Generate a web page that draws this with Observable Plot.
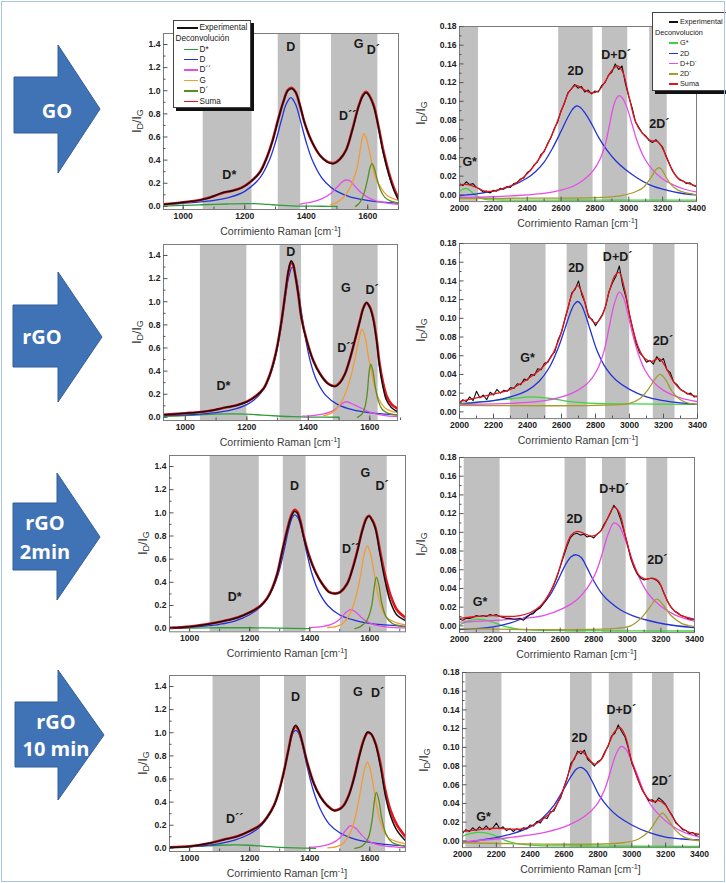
<!DOCTYPE html>
<html><head><meta charset="utf-8">
<script src="https://cdn.jsdelivr.net/npm/d3@7"></script>
<script src="https://cdn.jsdelivr.net/npm/@observablehq/plot@0.6"></script>
<style>
body{margin:0;background:#fff;}
#fig{position:relative;width:726px;height:883px;overflow:hidden;background:#fff;font-family:"Liberation Sans",Arial,sans-serif;}
.abs{position:absolute;}
.xt{position:absolute;text-align:center;font-size:10.5px;color:#3a3a3a;white-space:nowrap;}
.yt{position:absolute;font-size:12px;color:#333;white-space:nowrap;transform:translate(-50%,-50%) rotate(-90deg);}
.yt sub{font-size:9px;vertical-align:-2px;}
.xt sup{font-size:7.5px;vertical-align:4px;}
.leg{position:absolute;background:#fff;border:1px solid #444;box-shadow:3px 3px 0 #111;color:#222;}
.leg div{position:absolute;white-space:nowrap;line-height:9px;color:#222;}
.arrowtxt{position:absolute;color:#fff;font-family:"Open Sans",Lato,sans-serif;font-weight:bold;font-size:20px;text-align:center;white-space:nowrap;transform:translate(-50%,-50%);}
</style></head>
<body><div id="fig"></div>
<script>
// ---------- shared ticks ----------
const xMajorL = [1000, 1200, 1400, 1600];
const xMinorL = [1000, 1100, 1200, 1300, 1400, 1500, 1600, 1700];
const yMajorL = [0, 0.2, 0.4, 0.6, 0.8, 1.0, 1.2, 1.4];
const yMinorL = [0.1, 0.3, 0.5, 0.7, 0.9, 1.1, 1.3];
const xMajorR = [2000, 2200, 2400, 2600, 2800, 3000, 3200, 3400];
const xMinorR = [2100, 2300, 2500, 2700, 2900, 3100, 3300];
const yMajorR = [0, 0.02, 0.04, 0.06, 0.08, 0.10, 0.12, 0.14, 0.16, 0.18];
const yMinorR = [0.01, 0.03, 0.05, 0.07, 0.09, 0.11, 0.13, 0.15, 0.17];
const ramanR = [2000,2020,2040,2060,2080,2100,2120,2140,2160,2180,2200,2220,2240,2260,2280,2300,2320,2340,2360,2380,2400,2420,2440,2460,2480,2500,2520,2540,2560,2580,2600,2620,2640,2660,2680,2700,2720,2740,2760,2780,2800,2820,2840,2860,2880,2900,2920,2940,2960,2980,3000,3020,3040,3060,3080,3100,3120,3140,3160,3180,3200,3220,3240,3260,3280,3300,3320,3340,3360,3380,3400];

const sampleNames = ["GO", "rGO", "rGO|2min", "rGO|10 min"];

// ---------- GO : 950-1700 ----------
const GO_L_exp = [[936,0.017],[1000,0.035],[1050,0.052],[1080,0.07],[1100,0.09],[1130,0.12],[1160,0.135],[1190,0.16],[1220,0.215],[1250,0.295],[1270,0.41],[1290,0.56],[1310,0.76],[1325,0.9],[1340,1.0],[1352,1.02],[1365,0.99],[1380,0.87],[1395,0.72],[1420,0.55],[1445,0.44],[1470,0.38],[1490,0.37],[1510,0.41],[1530,0.49],[1550,0.66],[1570,0.86],[1585,0.96],[1595,0.985],[1605,0.955],[1620,0.86],[1635,0.68],[1650,0.47],[1670,0.26],[1685,0.14],[1700,0.055]];
const GO_L_suma = [[936,0.018],[1000,0.036],[1050,0.053],[1100,0.09],[1130,0.118],[1160,0.135],[1190,0.162],[1220,0.215],[1250,0.3],[1270,0.41],[1290,0.565],[1310,0.765],[1325,0.9],[1340,1.005],[1352,1.025],[1365,0.99],[1380,0.87],[1395,0.72],[1420,0.55],[1445,0.44],[1470,0.385],[1490,0.375],[1510,0.41],[1530,0.49],[1550,0.665],[1570,0.865],[1585,0.965],[1595,0.99],[1605,0.96],[1620,0.87],[1635,0.69],[1650,0.49],[1670,0.28],[1685,0.16],[1700,0.07]];
const GO_L_Dstar = [[936,0.003],[1000,0.008],[1050,0.013],[1100,0.018],[1150,0.021],[1200,0.023],[1230,0.023],[1260,0.02],[1290,0.014],[1320,0.009],[1350,0.005],[1400,0.002],[1450,0.001],[1500,0]];
const GO_L_D = [[936,0.019],[1000,0.027],[1050,0.036],[1100,0.051],[1150,0.078],[1200,0.13],[1250,0.249],[1280,0.398],[1300,0.555],[1320,0.752],[1335,0.885],[1350,0.94],[1365,0.885],[1380,0.752],[1400,0.555],[1420,0.398],[1450,0.249],[1480,0.165],[1500,0.13],[1540,0.085],[1580,0.06],[1620,0.044],[1660,0.034],[1700,0.027]];
const GO_L_D2 = [[1380,0.02],[1420,0.039],[1450,0.065],[1480,0.112],[1500,0.165],[1520,0.218],[1532,0.228],[1545,0.215],[1560,0.169],[1580,0.115],[1600,0.078],[1620,0.054],[1640,0.039],[1670,0.026],[1700,0.018]];
const GO_L_G = [[1480,0.015],[1500,0.035],[1522,0.08],[1544,0.17],[1556,0.25],[1566,0.34],[1576,0.5],[1583,0.6],[1588,0.63],[1594,0.6],[1600,0.54],[1609,0.43],[1617,0.33],[1625,0.25],[1641,0.17],[1663,0.095],[1700,0.05]];
const GO_L_Dp = [[1560,0.0],[1570,0.02],[1580,0.06],[1590,0.13],[1600,0.24],[1608,0.34],[1614,0.37],[1620,0.34],[1630,0.24],[1640,0.15],[1655,0.08],[1675,0.045],[1700,0.03]];
const GO_L_bands = [[1065,1224],[1309,1382],[1482,1633]];
const GO_L_labels = [["D*",1150,0.27],["D",1350,1.38],["D´´",1535,0.78],["G",1570,1.4],["D´",1618,1.35]];

// ---------- GO : 2000-3400 ----------
const GO_R_exp = [0.012,0.010,0.014,0.011,0.012,0.008,0.006,0.003,0.004,0.002,0.005,0.004,0.007,0.006,0.009,0.008,0.012,0.013,0.017,0.018,0.024,0.026,0.032,0.035,0.043,0.046,0.055,0.061,0.071,0.078,0.090,0.098,0.109,0.113,0.118,0.114,0.116,0.110,0.112,0.108,0.111,0.110,0.117,0.120,0.128,0.131,0.140,0.134,0.138,0.119,0.105,0.093,0.078,0.072,0.066,0.063,0.058,0.056,0.059,0.055,0.051,0.041,0.033,0.025,0.020,0.016,0.015,0.012,0.013,0.010,0.009];
const GO_R_suma = [[2000,0.011],[2050,0.011],[2100,0.008],[2150,0.004],[2200,0.004],[2260,0.007],[2320,0.011],[2380,0.019],[2440,0.031],[2500,0.047],[2560,0.07],[2610,0.094],[2650,0.111],[2690,0.117],[2730,0.113],[2780,0.109],[2820,0.111],[2860,0.121],[2900,0.133],[2935,0.138],[2965,0.131],[3000,0.106],[3040,0.078],[3080,0.066],[3130,0.058],[3170,0.057],[3210,0.046],[3250,0.029],[3290,0.018],[3340,0.013],[3400,0.0095]];
const GO_R_Gstar = [[2000,0.004],[2020,0.006],[2040,0.007],[2060,0.005],[2090,0.0],[2120,-0.003],[2160,-0.005],[2250,-0.0055],[2600,-0.0056],[3400,-0.0056]];
const GO_R_2D = [[2000,-0.001],[2100,0.001],[2200,0.004],[2300,0.009],[2400,0.018],[2450,0.025],[2500,0.035],[2550,0.05],[2600,0.068],[2640,0.083],[2670,0.092],[2690,0.095],[2710,0.094],[2740,0.088],[2780,0.076],[2820,0.062],[2870,0.048],[2920,0.037],[2980,0.027],[3050,0.018],[3120,0.011],[3200,0.006],[3300,0.002],[3400,0.0]];
const GO_R_DDp = [[2000,-0.003],[2200,-0.002],[2400,0.0],[2500,0.0015],[2600,0.005],[2680,0.01],[2740,0.017],[2790,0.026],[2830,0.038],[2860,0.053],[2885,0.074],[2910,0.095],[2930,0.104],[2945,0.106],[2965,0.103],[2990,0.093],[3020,0.075],[3050,0.057],[3090,0.04],[3140,0.027],[3200,0.017],[3260,0.011],[3330,0.006],[3400,0.003]];
const GO_R_2Dp = [[2000,-0.004],[2400,-0.0035],[2800,-0.003],[2950,-0.001],[3020,0.002],[3080,0.007],[3110,0.013],[3140,0.021],[3160,0.027],[3178,0.029],[3195,0.027],[3220,0.019],[3250,0.011],[3290,0.005],[3340,0.002],[3400,0.0]];
const GO_R_bands = [[2000,2112],[2586,2789],[2844,2994],[3124,3227]];
const GO_R_labels = [["G*",2060,0.035],["2D",2685,0.132],["D+D´",2925,0.149],["2D´",3180,0.076]];

// ---------- rGO : 950-1700 ----------
const rGO_L_exp = [[929,0.022],[960,0.028],[1000,0.035],[1050,0.046],[1090,0.062],[1120,0.08],[1170,0.107],[1200,0.135],[1230,0.185],[1255,0.25],[1275,0.37],[1295,0.56],[1312,0.82],[1325,1.07],[1336,1.28],[1344,1.355],[1350,1.33],[1358,1.22],[1368,1.05],[1378,0.85],[1395,0.66],[1416,0.49],[1438,0.375],[1460,0.30],[1476,0.274],[1488,0.268],[1503,0.30],[1519,0.375],[1535,0.504],[1551,0.663],[1568,0.836],[1578,0.937],[1589,0.994],[1600,0.951],[1611,0.85],[1622,0.663],[1632,0.432],[1643,0.26],[1654,0.15],[1670,0.086],[1690,0.05]];
const rGO_L_suma = [[929,0.023],[960,0.028],[1000,0.036],[1050,0.047],[1090,0.062],[1120,0.079],[1170,0.108],[1200,0.136],[1230,0.186],[1255,0.252],[1275,0.372],[1295,0.565],[1312,0.82],[1325,1.07],[1336,1.27],[1344,1.34],[1350,1.325],[1358,1.225],[1368,1.05],[1378,0.855],[1395,0.665],[1416,0.492],[1438,0.378],[1460,0.302],[1476,0.276],[1488,0.272],[1503,0.302],[1519,0.375],[1535,0.504],[1551,0.663],[1568,0.84],[1578,0.94],[1589,0.99],[1600,0.955],[1611,0.86],[1622,0.68],[1632,0.46],[1643,0.3],[1654,0.19],[1670,0.115],[1690,0.075]];
const rGO_L_Dstar = [[929,0.008],[1000,0.015],[1050,0.022],[1100,0.028],[1150,0.03],[1200,0.028],[1250,0.02],[1300,0.012],[1350,0.006],[1400,0.003],[1500,0.001]];
const rGO_L_D = [[929,0.015],[1000,0.021],[1050,0.029],[1100,0.041],[1150,0.064],[1200,0.11],[1240,0.192],[1270,0.325],[1290,0.489],[1305,0.68],[1320,0.937],[1335,1.2],[1348,1.3],[1361,1.2],[1376,0.937],[1391,0.68],[1406,0.489],[1426,0.325],[1456,0.192],[1496,0.11],[1546,0.064],[1596,0.041],[1650,0.028],[1700,0.021]];
const rGO_L_D2 = [[1380,0.01],[1420,0.018],[1450,0.03],[1470,0.045],[1490,0.075],[1505,0.11],[1522,0.135],[1540,0.12],[1560,0.095],[1580,0.07],[1600,0.045],[1620,0.03],[1650,0.015],[1680,0.008],[1700,0.006]];
const rGO_L_G = [[1450,0.015],[1470,0.03],[1490,0.068],[1510,0.145],[1525,0.24],[1540,0.37],[1555,0.55],[1565,0.68],[1574,0.762],[1585,0.69],[1595,0.53],[1605,0.4],[1615,0.27],[1630,0.155],[1650,0.08],[1670,0.055],[1700,0.038]];
const rGO_L_Dp = [[1560,0.0],[1575,0.03],[1585,0.1],[1592,0.22],[1598,0.4],[1603,0.46],[1610,0.4],[1618,0.26],[1628,0.14],[1640,0.07],[1660,0.035],[1700,0.02]];
const rGO_L_bands = [[1049,1200],[1308,1378],[1481,1627]];
const rGO_L_labels = [["D*",1124,0.27],["D",1343,1.43],["D´´",1522,0.6],["G",1522,1.12],["D´",1607,1.1]];

// ---------- rGO : 2000-3400 ----------
const rGO_R_exp = [0.009,0.013,0.011,0.016,0.012,0.022,0.015,0.018,0.013,0.021,0.018,0.024,0.020,0.023,0.022,0.026,0.025,0.030,0.029,0.035,0.034,0.040,0.039,0.046,0.045,0.052,0.053,0.060,0.064,0.077,0.085,0.099,0.112,0.127,0.131,0.140,0.125,0.116,0.101,0.099,0.092,0.098,0.104,0.113,0.129,0.138,0.145,0.156,0.135,0.122,0.104,0.088,0.073,0.063,0.059,0.053,0.055,0.051,0.059,0.054,0.057,0.045,0.042,0.032,0.029,0.024,0.022,0.019,0.020,0.016,0.017];
const rGO_R_suma = [[2000,0.011],[2100,0.015],[2200,0.019],[2300,0.024],[2400,0.035],[2480,0.046],[2540,0.059],[2590,0.08],[2630,0.106],[2665,0.127],[2695,0.135],[2725,0.125],[2760,0.103],[2800,0.095],[2840,0.103],[2880,0.128],[2915,0.146],[2940,0.149],[2970,0.132],[3010,0.096],[3050,0.07],[3090,0.057],[3130,0.054],[3175,0.057],[3215,0.047],[3260,0.032],[3300,0.024],[3350,0.019],[3400,0.016]];
const rGO_R_Gstar = [[2000,0.009],[2100,0.0105],[2200,0.012],[2300,0.014],[2430,0.016],[2550,0.014],[2650,0.011],[2800,0.009],[3000,0.0085],[3400,0.008]];
const rGO_R_2D = [[2000,0.008],[2100,0.01],[2200,0.012],[2300,0.016],[2400,0.023],[2470,0.033],[2530,0.048],[2580,0.068],[2620,0.089],[2650,0.105],[2675,0.115],[2695,0.118],[2715,0.115],[2740,0.104],[2770,0.087],[2810,0.065],[2860,0.047],[2920,0.034],[3000,0.024],[3100,0.016],[3200,0.012],[3300,0.0095],[3400,0.008]];
const rGO_R_DDp = [[2000,0.008],[2300,0.009],[2500,0.012],[2650,0.019],[2750,0.03],[2810,0.045],[2850,0.065],[2880,0.09],[2910,0.115],[2940,0.128],[2965,0.122],[2990,0.105],[3020,0.082],[3050,0.063],[3090,0.045],[3140,0.032],[3200,0.023],[3300,0.015],[3400,0.011]];
const rGO_R_2Dp = [[2000,0.007],[2800,0.007],[3000,0.009],[3060,0.014],[3110,0.024],[3150,0.035],[3180,0.040],[3210,0.035],[3250,0.022],[3300,0.013],[3350,0.009],[3400,0.008]];
const rGO_R_bands = [[2299,2509],[2633,2755],[2859,3001],[3140,3268]];
const rGO_R_labels = [["G*",2400,0.058],["2D",2686,0.154],["D+D´",2930,0.166],["2D´",3197,0.076]];

// ---------- rGO 2min : 950-1700 ----------
const rGO2_L_exp = [[933,0.006],[1000,0.017],[1070,0.043],[1114,0.066],[1159,0.095],[1203,0.144],[1236,0.196],[1258,0.259],[1275,0.345],[1292,0.474],[1308,0.661],[1325,0.848],[1338,0.963],[1349,1.012],[1358,1.0],[1369,0.92],[1380,0.79],[1397,0.632],[1419,0.489],[1441,0.388],[1464,0.316],[1486,0.302],[1502,0.316],[1525,0.388],[1541,0.503],[1558,0.661],[1574,0.834],[1589,0.949],[1597,0.972],[1608,0.934],[1619,0.862],[1635,0.632],[1652,0.402],[1669,0.23],[1691,0.115],[1719,0.07]];
const rGO2_L_suma = [[933,0.007],[1000,0.018],[1070,0.044],[1114,0.067],[1159,0.096],[1203,0.145],[1236,0.198],[1258,0.262],[1275,0.348],[1292,0.478],[1308,0.665],[1325,0.855],[1338,0.975],[1349,1.025],[1358,1.01],[1369,0.93],[1380,0.8],[1397,0.64],[1419,0.492],[1441,0.39],[1464,0.318],[1486,0.305],[1502,0.318],[1525,0.39],[1541,0.505],[1558,0.665],[1574,0.84],[1589,0.955],[1597,0.975],[1608,0.94],[1619,0.87],[1635,0.66],[1652,0.45],[1669,0.29],[1691,0.16],[1719,0.095]];
const rGO2_L_Dstar = [[933,0.002],[1000,0.005],[1100,0.008],[1200,0.008],[1300,0.004],[1400,0.001]];
const rGO2_L_D = [[933,0.004],[1000,0.011],[1050,0.022],[1100,0.038],[1150,0.066],[1200,0.12],[1240,0.2],[1270,0.31],[1295,0.47],[1315,0.68],[1330,0.86],[1342,0.96],[1350,0.983],[1360,0.96],[1372,0.87],[1388,0.68],[1408,0.47],[1430,0.32],[1460,0.2],[1500,0.118],[1550,0.072],[1600,0.045],[1650,0.032],[1719,0.02]];
const rGO2_L_D2 = [[1400,0.008],[1440,0.018],[1470,0.034],[1495,0.07],[1515,0.125],[1535,0.164],[1555,0.14],[1575,0.09],[1595,0.055],[1620,0.03],[1660,0.013],[1719,0.006]];
const rGO2_L_G = [[1460,0.01],[1490,0.02],[1510,0.045],[1530,0.11],[1545,0.2],[1560,0.34],[1572,0.5],[1582,0.65],[1591,0.715],[1600,0.67],[1610,0.55],[1620,0.39],[1632,0.24],[1645,0.14],[1660,0.088],[1690,0.05],[1719,0.033]];
const rGO2_L_Dp = [[1550,0.0],[1570,0.02],[1590,0.07],[1605,0.18],[1615,0.36],[1622,0.445],[1630,0.38],[1640,0.22],[1655,0.1],[1675,0.045],[1700,0.025],[1719,0.018]];
const rGO2_L_bands = [[1068,1232],[1312,1388],[1502,1658]];
const rGO2_L_labels = [["D*",1150,0.27],["D",1349,1.23],["D´´",1536,0.69],["G",1585,1.34],["D´",1641,1.23]];

// ---------- rGO 2min : 2000-3400 ----------
const rGO2_R_exp = [0.007,0.006,0.008,0.008,0.009,0.011,0.010,0.011,0.010,0.012,0.011,0.012,0.010,0.009,0.008,0.008,0.007,0.007,0.008,0.006,0.009,0.012,0.013,0.017,0.019,0.024,0.029,0.036,0.043,0.052,0.063,0.074,0.085,0.094,0.098,0.099,0.097,0.098,0.095,0.096,0.094,0.098,0.101,0.108,0.114,0.121,0.129,0.124,0.114,0.101,0.088,0.072,0.062,0.055,0.051,0.049,0.050,0.051,0.050,0.048,0.043,0.034,0.026,0.020,0.016,0.014,0.011,0.010,0.008,0.007,0.007];
const rGO2_R_suma = [[2000,0.008],[2100,0.01],[2200,0.011],[2280,0.01],[2360,0.011],[2420,0.014],[2480,0.021],[2540,0.036],[2590,0.058],[2630,0.082],[2665,0.097],[2700,0.101],[2740,0.099],[2790,0.096],[2840,0.101],[2880,0.114],[2920,0.127],[2950,0.122],[2990,0.095],[3030,0.069],[3070,0.054],[3110,0.05],[3150,0.051],[3185,0.048],[3220,0.034],[3260,0.02],[3310,0.012],[3400,0.007]];
const rGO2_R_Gstar = [[2000,0.001],[2050,0.005],[2100,0.007],[2150,0.0065],[2200,0.004],[2260,0.0],[2330,-0.003],[2450,-0.0045],[2700,-0.005],[3400,-0.0055]];
const rGO2_R_2D = [[2000,-0.004],[2200,-0.001],[2300,0.003],[2400,0.01],[2480,0.02],[2540,0.033],[2590,0.05],[2630,0.065],[2665,0.074],[2696,0.076],[2725,0.073],[2760,0.062],[2800,0.048],[2850,0.034],[2900,0.025],[2960,0.017],[3030,0.011],[3120,0.006],[3220,0.002],[3400,-0.002]];
const rGO2_R_DDp = [[2000,0.004],[2300,0.007],[2500,0.011],[2620,0.019],[2700,0.028],[2760,0.04],[2810,0.056],[2850,0.077],[2885,0.098],[2920,0.11],[2950,0.107],[2985,0.093],[3030,0.07],[3080,0.048],[3130,0.033],[3200,0.021],[3280,0.012],[3400,0.005]];
const rGO2_R_2Dp = [[2000,-0.003],[2900,-0.003],[3020,0.0],[3080,0.008],[3130,0.019],[3175,0.0285],[3215,0.022],[3260,0.011],[3320,0.003],[3400,-0.001]];
const rGO2_R_bands = [[2028,2242],[2629,2755],[2852,2993],[3116,3241]];
const rGO2_R_labels = [["G*",2123,0.026],["2D",2685,0.114],["D+D´",2921,0.146],["2D´",3179,0.07]];

// ---------- rGO 10 min : 950-1700 ----------
const rGO10_L_exp = [[933,0.009],[1000,0.017],[1070,0.046],[1114,0.075],[1159,0.104],[1203,0.153],[1236,0.202],[1258,0.269],[1281,0.37],[1297,0.486],[1314,0.66],[1330,0.861],[1342,1.006],[1353,1.064],[1364,1.02],[1375,0.92],[1391,0.746],[1414,0.558],[1436,0.442],[1458,0.37],[1480,0.327],[1497,0.335],[1513,0.37],[1530,0.457],[1547,0.601],[1563,0.775],[1580,0.934],[1593,1.006],[1604,0.991],[1619,0.905],[1635,0.717],[1652,0.457],[1669,0.283],[1691,0.153],[1719,0.066]];
const rGO10_L_suma = [[933,0.01],[1000,0.018],[1070,0.047],[1114,0.076],[1159,0.105],[1203,0.154],[1236,0.204],[1258,0.27],[1281,0.372],[1297,0.49],[1314,0.665],[1330,0.865],[1342,1.005],[1353,1.055],[1364,1.015],[1375,0.92],[1391,0.75],[1414,0.56],[1436,0.445],[1458,0.372],[1480,0.33],[1497,0.338],[1513,0.372],[1530,0.46],[1547,0.605],[1563,0.78],[1580,0.94],[1593,1.0],[1604,0.99],[1619,0.91],[1635,0.74],[1652,0.5],[1669,0.33],[1691,0.2],[1719,0.1]];
const rGO10_L_Dstar = [[933,0.005],[1000,0.012],[1050,0.02],[1100,0.027],[1150,0.03],[1200,0.027],[1250,0.018],[1300,0.009],[1350,0.004],[1420,0.001]];
const rGO10_L_D = [[933,0.008],[1000,0.015],[1050,0.025],[1100,0.042],[1150,0.072],[1200,0.124],[1240,0.2],[1270,0.31],[1295,0.47],[1315,0.68],[1332,0.88],[1345,1.0],[1353,1.02],[1362,1.0],[1375,0.9],[1392,0.7],[1412,0.5],[1435,0.34],[1465,0.21],[1500,0.135],[1550,0.08],[1600,0.052],[1650,0.035],[1719,0.022]];
const rGO10_L_D2 = [[1400,0.008],[1440,0.02],[1475,0.045],[1500,0.09],[1518,0.15],[1536,0.196],[1555,0.17],[1575,0.11],[1595,0.065],[1620,0.037],[1660,0.017],[1719,0.007]];
const rGO10_L_G = [[1460,0.005],[1490,0.015],[1510,0.04],[1530,0.11],[1545,0.2],[1560,0.37],[1572,0.54],[1583,0.69],[1592,0.745],[1600,0.7],[1610,0.57],[1620,0.41],[1632,0.26],[1645,0.16],[1660,0.095],[1690,0.058],[1719,0.04]];
const rGO10_L_Dp = [[1550,0.0],[1575,0.02],[1595,0.09],[1608,0.25],[1616,0.42],[1622,0.485],[1630,0.42],[1640,0.26],[1655,0.12],[1675,0.05],[1700,0.028],[1719,0.02]];
const rGO10_L_bands = [[1078,1236],[1316,1389],[1502,1653]];
const rGO10_L_labels = [["D´´",1150,0.25],["D",1353,1.31],["G",1560,1.35],["D´",1626,1.34]];

// ---------- rGO 10 min : 2000-3400 ----------
const rGO10_R_exp = [0.008,0.012,0.010,0.014,0.011,0.015,0.012,0.016,0.012,0.014,0.019,0.013,0.015,0.011,0.013,0.010,0.013,0.011,0.014,0.013,0.017,0.016,0.021,0.019,0.025,0.024,0.031,0.032,0.040,0.046,0.058,0.068,0.083,0.087,0.096,0.093,0.097,0.087,0.084,0.080,0.085,0.087,0.095,0.101,0.112,0.115,0.124,0.117,0.111,0.099,0.083,0.074,0.064,0.055,0.049,0.043,0.044,0.041,0.046,0.043,0.039,0.032,0.027,0.019,0.016,0.012,0.011,0.008,0.009,0.006,0.007];
const rGO10_R_suma = [[2000,0.01],[2100,0.012],[2200,0.0135],[2280,0.0125],[2360,0.013],[2420,0.017],[2480,0.024],[2540,0.034],[2590,0.052],[2630,0.074],[2665,0.09],[2700,0.096],[2740,0.089],[2780,0.082],[2820,0.087],[2860,0.102],[2900,0.117],[2930,0.121],[2960,0.113],[3000,0.085],[3040,0.064],[3080,0.049],[3120,0.042],[3160,0.043],[3200,0.038],[3240,0.026],[3280,0.016],[3330,0.01],[3400,0.007]];
const rGO10_R_Gstar = [[2000,0.005],[2050,0.008],[2100,0.009],[2150,0.008],[2200,0.005],[2260,0.0],[2320,-0.003],[2450,-0.005],[2700,-0.0055],[3400,-0.006]];
const rGO10_R_2D = [[2000,-0.002],[2150,0.002],[2300,0.008],[2400,0.015],[2470,0.024],[2540,0.038],[2600,0.056],[2645,0.07],[2675,0.077],[2700,0.0785],[2730,0.075],[2765,0.064],[2810,0.048],[2860,0.036],[2920,0.026],[3000,0.017],[3100,0.009],[3200,0.004],[3300,0.002],[3400,0.001]];
const rGO10_R_DDp = [[2000,-0.001],[2300,0.004],[2500,0.0096],[2630,0.017],[2720,0.026],[2790,0.038],[2840,0.055],[2880,0.078],[2910,0.094],[2938,0.101],[2965,0.098],[2995,0.087],[3030,0.072],[3070,0.053],[3110,0.039],[3160,0.028],[3230,0.017],[3310,0.009],[3400,0.004]];
const rGO10_R_2Dp = [[2000,-0.002],[2950,-0.002],[3040,0.002],[3100,0.01],[3145,0.022],[3181,0.0296],[3215,0.023],[3255,0.012],[3310,0.004],[3400,0.0]];
const rGO10_R_bands = [[2020,2233],[2638,2766],[2867,3007],[3122,3250]];
const rGO10_R_labels = [["G*",2124,0.026],["2D",2691,0.11],["D+D´",2938,0.14],["2D´",3177,0.064]];

// ---------- legend entries ----------
const legendL = ["D*", "D", "D´´", "G", "D´"];
const legendR = ["G*", "2D", "D+D´", "2D´"];

// ================= drawing =================
const colL = ["#2e9e3a", "#2233d6", "#e54ee5", "#f39a33", "#5a8e1e"];
const colR = ["#3fd23f", "#2233d6", "#e54ee5", "#a79b2c"];
const RED = "#e3141c";
const fig = document.getElementById("fig");

function add(html, cls, style) {
  const d = document.createElement("div");
  if (cls) d.className = cls;
  d.innerHTML = html;
  Object.assign(d.style, style);
  fig.appendChild(d);
  return d;
}

function panel(cfg) {
  const [fx0, fy0, fx1, fy1] = cfg.frame;
  const fw = fx1 - fx0, fh = fy1 - fy0;
  const ml = 36, mr = 4, mt = 4, mb = 30;
  const left = cfg.side === "L";
  const marks = [
    Plot.rect(cfg.bands, {x1: d => d[0], x2: d => d[1], y1: () => cfg.yd[0], y2: () => cfg.yd[1], fill: "#c0c0c0"})
  ];
  cfg.comps.forEach((c, i) => {
    marks.push(Plot.line(c, {x: d => d[0], y: d => d[1], stroke: cfg.colors[i], strokeWidth: 1.3, curve: "catmull-rom", clip: true}));
  });
  if (left) {
    marks.push(Plot.line(cfg.suma, {x: d => d[0], y: d => d[1], stroke: RED, strokeWidth: 2.6, curve: "catmull-rom", clip: true}));
    marks.push(Plot.line(cfg.exp, {x: d => d[0], y: d => d[1], stroke: "#111", strokeWidth: 1.5, curve: "catmull-rom", clip: true}));
  } else {
    marks.push(Plot.line(cfg.exp, {x: (d, i) => ramanR[i], y: d => d, stroke: "#111", strokeWidth: 1.1, clip: true}));
    marks.push(Plot.line(cfg.suma, {x: d => d[0], y: d => d[1], stroke: RED, strokeWidth: 1.3, curve: "catmull-rom", clip: true}));
  }
  marks.push(
    Plot.frame({stroke: "#7c7c7c", strokeWidth: 1}),
    Plot.ruleX(cfg.xMinor, {x: d => d, insetTop: fh - 2.5, stroke: "#555"}),
    Plot.ruleX(cfg.xMajor, {x: d => d, insetTop: fh - 4.5, stroke: "#555"}),
    Plot.ruleY(cfg.yMinor, {y: d => d, insetRight: fw - 2.5, stroke: "#555"}),
    Plot.ruleY(cfg.yMajor, {y: d => d, insetRight: fw - 4.5, stroke: "#555"}),
    Plot.axisX(cfg.xMajor, {tickSize: 0, tickPadding: 3, tickFormat: d => String(d), label: null, fill: "#222"}),
    Plot.axisY(cfg.yMajor, {tickSize: 0, tickPadding: 3, tickFormat: d => d.toFixed(left ? 1 : 2), label: null, fill: "#222"}),
    Plot.text(cfg.labels, {x: d => d[1], y: d => d[2], text: d => d[0], fontSize: 12.5, fontWeight: "bold", fill: "#1a1a1a"})
  );
  const svg = Plot.plot({
    width: ml + fw + mr, height: mt + fh + mb,
    marginLeft: ml, marginRight: mr, marginTop: mt, marginBottom: mb,
    x: {domain: cfg.xd}, y: {domain: cfg.yd},
    style: {fontFamily: "'Liberation Sans', Arial, sans-serif", fontSize: "8.6px", fontWeight: "bold", background: "transparent", overflow: "visible"},
    marks
  });
  svg.style.position = "absolute";
  svg.style.left = (fx0 - ml) + "px";
  svg.style.top = (fy0 - mt) + "px";
  fig.appendChild(svg);
  add("Corrimiento Raman [cm<sup>-1</sup>]", "xt", {left: fx0 + "px", width: fw + "px", top: (fy1 + 15) + "px"});
  add("I<sub>D</sub>/I<sub>G</sub>", "yt", {left: (fx0 - (left ? 26 : 38)) + "px", top: ((fy0 + fy1) / 2) + "px"});
}

const yL = [-0.027, 1.495], yR = [-0.0072, 0.18];
const rowsL = [
  {frame: [163, 33, 398, 209], xd: [936, 1700], d: [GO_L_exp, GO_L_suma, [GO_L_Dstar, GO_L_D, GO_L_D2, GO_L_G, GO_L_Dp], GO_L_bands, GO_L_labels]},
  {frame: [163, 243.7, 397, 419.7], xd: [929, 1690], d: [rGO_L_exp, rGO_L_suma, [rGO_L_Dstar, rGO_L_D, rGO_L_D2, rGO_L_G, rGO_L_Dp], rGO_L_bands, rGO_L_labels]},
  {frame: [169, 455, 405, 631.3], xd: [933, 1719], d: [rGO2_L_exp, rGO2_L_suma, [rGO2_L_Dstar, rGO2_L_D, rGO2_L_D2, rGO2_L_G, rGO2_L_Dp], rGO2_L_bands, rGO2_L_labels]},
  {frame: [169, 675, 405, 851], xd: [933, 1719], d: [rGO10_L_exp, rGO10_L_suma, [rGO10_L_Dstar, rGO10_L_D, rGO10_L_D2, rGO10_L_G, rGO10_L_Dp], rGO10_L_bands, rGO10_L_labels]}
];
const rowsR = [
  {frame: [459, 25.7, 696, 200.8], d: [GO_R_exp, GO_R_suma, [GO_R_Gstar, GO_R_2D, GO_R_DDp, GO_R_2Dp], GO_R_bands, GO_R_labels]},
  {frame: [459, 242.7, 697, 417.8], d: [rGO_R_exp, rGO_R_suma, [rGO_R_Gstar, rGO_R_2D, rGO_R_DDp, rGO_R_2Dp], rGO_R_bands, rGO_R_labels]},
  {frame: [459, 456.7, 694, 631.8], d: [rGO2_R_exp, rGO2_R_suma, [rGO2_R_Gstar, rGO2_R_2D, rGO2_R_DDp, rGO2_R_2Dp], rGO2_R_bands, rGO2_R_labels]},
  {frame: [462, 672.3, 699, 847.4], d: [rGO10_R_exp, rGO10_R_suma, [rGO10_R_Gstar, rGO10_R_2D, rGO10_R_DDp, rGO10_R_2Dp], rGO10_R_bands, rGO10_R_labels]}
];

rowsL.forEach(r => panel({side: "L", frame: r.frame, xd: r.xd, yd: yL, exp: r.d[0], suma: r.d[1], comps: r.d[2], colors: colL, bands: r.d[3], labels: r.d[4], xMajor: xMajorL, xMinor: xMinorL, yMajor: yMajorL, yMinor: yMinorL}));
rowsR.forEach(r => panel({side: "R", frame: r.frame, xd: [2000, 3400], yd: yR, exp: r.d[0], suma: r.d[1], comps: r.d[2], colors: colR, bands: r.d[3], labels: r.d[4], xMajor: xMajorR, xMinor: xMinorR, yMajor: yMajorR, yMinor: yMinorR}));

// ---------- legends ----------
function legend(x, y, w, h, fs, names, colors, rowY, lineX, textX, expText) {
  const box = document.createElement("div");
  box.className = "leg";
  Object.assign(box.style, {left: x + "px", top: y + "px", width: w + "px", height: h + "px", fontSize: fs + "px"});
  const item = (html, st) => { const d = document.createElement("div"); d.innerHTML = html; Object.assign(d.style, st); box.appendChild(d); };
  const row = (i, label, color, thick, lx0) => {
    item("", {left: lx0 + "px", top: (rowY[i] - thick / 2) + "px", width: (lineX[1] - lx0) + "px", height: thick + "px", background: color});
    item(label, {left: textX + "px", top: (rowY[i] - 4.8) + "px"});
  };
  row(0, expText, "#111", 2.4, lineX[2]);
  item("Deconvolución", {left: "2px", top: (rowY[1] - 4.8) + "px"});
  names.forEach((n, i) => row(i + 2, n, colors[i], 1.4, lineX[0]));
  row(names.length + 2, "Suma", RED, 1.4, lineX[0]);
  fig.appendChild(box);
}
legend(172.5, 20, 76, 86, 8.2, legendL, colL, [7, 18, 28.5, 38.8, 49, 59.5, 70, 80.5], [10, 24, 3], 26, "Experimental");
legend(652, 12, 80, 77, 7.3, legendR, colR, [9, 19.5, 30, 40.3, 50.5, 61, 71], [16, 25, 16], 27, "Experimental");

// ---------- arrows ----------
const arrowSvg = document.createElementNS("http://www.w3.org/2000/svg", "svg");
arrowSvg.setAttribute("width", 726); arrowSvg.setAttribute("height", 883);
Object.assign(arrowSvg.style, {position: "absolute", left: "0px", top: "0px", pointerEvents: "none"});
const arrowGeom = [
  {bx: [14, 58], by: [77, 133], hy: [45, 173], tip: [100, 109]},
  {bx: [13, 58], by: [305, 367], hy: [272, 402], tip: [102, 337]},
  {bx: [13, 57], by: [503, 570], hy: [473, 600], tip: [100, 537]},
  {bx: [15, 58], by: [702, 767], hy: [670, 800], tip: [104, 735]}
];
arrowGeom.forEach(a => {
  const p = document.createElementNS("http://www.w3.org/2000/svg", "polygon");
  const pts = [[a.bx[0], a.by[0]], [a.bx[1], a.by[0]], [a.bx[1], a.hy[0]], a.tip, [a.bx[1], a.hy[1]], [a.bx[1], a.by[1]], [a.bx[0], a.by[1]]];
  p.setAttribute("points", pts.map(q => q.join(",")).join(" "));
  p.setAttribute("fill", "#4072b6");
  p.setAttribute("stroke", "#335f9a");
  p.setAttribute("stroke-width", "1");
  arrowSvg.appendChild(p);
});
fig.appendChild(arrowSvg);
const arrowText = [[57, 110], [42, 336], [45, 522, 551], [56, 721, 748]];
sampleNames.forEach((name, i) => {
  const parts = name.split("|");
  const t = arrowText[i];
  parts.forEach((s, j) => add(s, "arrowtxt", {left: t[0] + "px", top: t[1 + j] + "px"}));
});

// outer light-blue border
add("", "abs", {left: "1px", top: "1px", width: "722px", height: "879px", border: "1px solid #a8c4e6"});
</script>
</body></html>
